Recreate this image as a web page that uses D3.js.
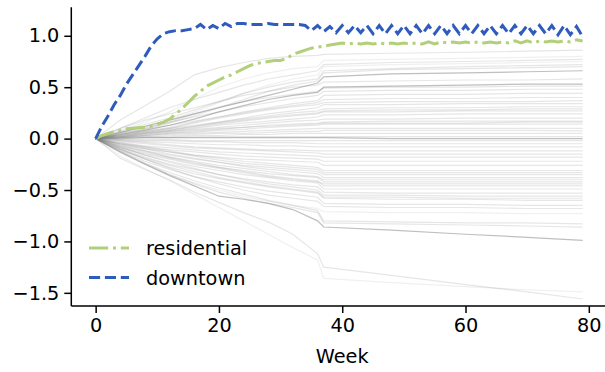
<!DOCTYPE html>
<html>
<head>
<meta charset="utf-8">
<script src="https://cdn.jsdelivr.net/npm/d3@7"></script>
<style>
  body { margin: 0; background: #fff; }
  text { font-family: "DejaVu Sans", sans-serif; }
</style>
</head>
<body>
<div id="chart"></div>
<script>
// weekly values of the two highlighted areas (weeks 0..79)
const weeks = d3.range(0, 80);
const downtown = [
  0, 0.12, 0.22, 0.33, 0.42, 0.53, 0.62, 0.71, 0.80, 0.90,
  0.97, 1.02, 1.04, 1.05, 1.05, 1.06, 1.07, 1.11, 1.06, 1.10,
  1.07, 1.12, 1.09, 1.12, 1.12, 1.11, 1.11, 1.11, 1.12, 1.11,
  1.11, 1.11, 1.11, 1.11, 1.10, 1.05, 1.10, 1.04, 1.09, 1.03,
  1.10, 1.03, 1.10, 1.03, 1.10, 1.02, 1.10, 1.02, 1.10, 1.02,
  1.10, 1.02, 1.10, 1.02, 1.10, 1.02, 1.10, 1.02, 1.10, 1.02,
  1.10, 1.02, 1.10, 1.02, 1.10, 1.02, 1.10, 1.02, 1.10, 1.02,
  1.10, 1.02, 1.10, 1.02, 1.10, 1.01, 1.10, 1.01, 1.09, 0.99
];
const residential = [
  0, 0.03, 0.05, 0.07, 0.08, 0.095, 0.10, 0.105, 0.11, 0.12,
  0.14, 0.16, 0.19, 0.24, 0.29, 0.35, 0.41, 0.46, 0.51, 0.54,
  0.57, 0.60, 0.62, 0.65, 0.68, 0.71, 0.73, 0.74, 0.75, 0.76,
  0.76, 0.78, 0.82, 0.84, 0.86, 0.88, 0.89, 0.90, 0.91, 0.92,
  0.93, 0.92, 0.93, 0.92, 0.93, 0.92, 0.93, 0.92, 0.93, 0.92,
  0.93, 0.92, 0.93, 0.92, 0.94, 0.92, 0.94, 0.93, 0.94, 0.93,
  0.94, 0.93, 0.94, 0.93, 0.94, 0.93, 0.94, 0.93, 0.95, 0.93,
  0.95, 0.93, 0.95, 0.94, 0.95, 0.94, 0.95, 0.94, 0.96, 0.95
];

// other areas, sampled at these weeks
const grayWeeks = [0, 4, 8, 12, 16, 20, 24, 28, 32, 36, 37, 48, 60, 70, 79];
const grayLines = [
  [0, .18, .32, .46, .62, .69, .74, .78, .80, .81, .82, .83, .84, .85, .86],
  [0, .08, .16, .26, .38, .50, .58, .64, .68, .70, .76, .77, .78, .79, .80],
  [0, .10, .20, .30, .38, .45, .52, .58, .62, .66, .72, .74, .75, .76, .77],
  [0, .05, .12, .18, .26, .35, .44, .52, .58, .62, .70, .72, .73, .74, .75],
  [0, .07, .14, .20, .28, .36, .44, .50, .55, .58, .66, .68, .70, .71, .72],
  [0, .04, .09, .15, .22, .30, .38, .46, .52, .56, .64, .67, .68, .69, .70],
  [0, .06, .12, .18, .24, .30, .36, .42, .48, .54, .60, .63, .64, .65, .66],
  [0, .10, .18, .24, .30, .36, .42, .46, .50, .52, .55, .56, .57, .57, .58],
  [0, .04, .08, .13, .19, .26, .32, .38, .42, .45, .50, .51, .52, .53, .53],
  [0, .06, .11, .16, .21, .26, .31, .35, .39, .42, .46, .47, .47, .48, .48],
  [0, .03, .07, .11, .16, .21, .26, .30, .34, .37, .42, .43, .43, .44, .44],
  [0, .05, .09, .13, .17, .21, .25, .29, .32, .35, .38, .39, .39, .40, .40],
  [0, .02, .05, .08, .12, .16, .20, .24, .27, .30, .33, .33, .34, .34, .34],
  [0, .04, .07, .10, .13, .16, .19, .22, .25, .27, .29, .30, .30, .31, .31],
  [0, .03, .06, .09, .12, .15, .18, .21, .23, .25, .27, .28, .28, .29, .29],
  [0, .02, .04, .07, .10, .13, .15, .17, .19, .21, .23, .23, .24, .24, .24],
  [0, .03, .05, .07, .09, .11, .13, .15, .17, .18, .19, .19, .20, .20, .20],
  [0, .02, .04, .06, .08, .10, .11, .13, .14, .15, .16, .17, .17, .17, .17],
  [0, .01, .03, .05, .06, .08, .09, .11, .12, .13, .14, .14, .14, .14, .14],
  [0, .02, .03, .04, .05, .06, .07, .08, .09, .10, .10, .10, .10, .10, .10],
  [0, .01, .02, .03, .04, .05, .05, .06, .07, .07, .08, .08, .08, .08, .075],
  [0, .01, .02, .02, .03, .03, .04, .04, .05, .05, .05, .05, .05, .05, .05],
  [0, .01, .01, .01, .02, .02, .02, .02, .02, .02, .02, .02, .02, .02, .02],
  [0, .00, .01, .01, .01, .01, .01, .01, .01, .01, .01, .00, .00, .00, .00],
  [0, -.01, -.01, -.01, -.02, -.02, -.02, -.02, -.02, -.02, -.02, -.02, -.02, -.02, -.02],
  [0, -.01, -.02, -.02, -.03, -.03, -.04, -.04, -.04, -.05, -.05, -.05, -.05, -.05, -.05],
  [0, -.02, -.03, -.04, -.05, -.06, -.06, -.07, -.07, -.08, -.08, -.08, -.08, -.08, -.08],
  [0, -.03, -.05, -.07, -.09, -.10, -.11, -.12, -.13, -.14, -.15, -.15, -.15, -.15, -.15],
  [0, -.04, -.07, -.09, -.11, -.13, -.14, -.15, -.16, -.17, -.18, -.18, -.18, -.18, -.18],
  [0, -.05, -.08, -.11, -.13, -.15, -.17, -.18, -.19, -.20, -.22, -.22, -.22, -.22, -.22],
  [0, -.06, -.10, -.13, -.16, -.18, -.20, -.21, -.22, -.23, -.26, -.26, -.26, -.26, -.26],
  [0, -.04, -.08, -.12, -.16, -.19, -.22, -.24, -.26, -.28, -.31, -.31, -.31, -.31, -.31],
  [0, -.07, -.12, -.16, -.20, -.23, -.26, -.28, -.30, -.32, -.35, -.35, -.35, -.35, -.35],
  [0, -.05, -.10, -.15, -.19, -.23, -.27, -.30, -.32, -.34, -.38, -.38, -.38, -.38, -.38],
  [0, -.08, -.14, -.19, -.24, -.28, -.31, -.34, -.36, -.38, -.42, -.42, -.42, -.42, -.42],
  [0, -.06, -.12, -.18, -.23, -.28, -.32, -.36, -.39, -.41, -.46, -.46, -.46, -.46, -.46],
  [0, -.09, -.16, -.22, -.27, -.31, -.35, -.38, -.41, -.43, -.49, -.49, -.49, -.49, -.49],
  [0, -.10, -.18, -.25, -.30, -.35, -.39, -.42, -.45, -.47, -.52, -.53, -.53, -.53, -.53],
  [0, -.08, -.16, -.23, -.29, -.35, -.40, -.44, -.47, -.50, -.55, -.55, -.56, -.56, -.56],
  [0, -.11, -.20, -.28, -.34, -.39, -.43, -.47, -.50, -.53, -.58, -.59, -.59, -.60, -.60],
  [0, -.12, -.22, -.30, -.37, -.42, -.47, -.51, -.54, -.57, -.63, -.64, -.64, -.65, -.65],
  [0, -.10, -.20, -.29, -.37, -.44, -.50, -.55, -.58, -.61, -.66, -.67, -.67, -.68, -.68],
  [0, -.13, -.24, -.33, -.41, -.48, -.54, -.60, -.65, -.70, -.80, -.81, -.82, -.82, -.83],
  [0, -.12, -.24, -.35, -.44, -.52, -.58, -.63, -.67, -.72, -.82, -.83, -.84, -.85, -.86],
  [0, -.13, -.25, -.36, -.46, -.56, -.59, -.63, -.69, -.80, -.86, -.89, -.93, -.96, -.99],
  [0, -.17, -.29, -.41, -.54, -.67, -.80, -.93, -1.06, -1.18, -1.36, -1.40, -1.44, -1.47, -1.49],
  [0, -.19, -.30, -.40, -.52, -.62, -.72, -.81, -.93, -1.12, -1.25, -1.33, -1.42, -1.49, -1.56],
  [0, .05, .10, .16, .24, .31, .36, .40, .43, .46, .49, .50, .50, .51, .51],
  [0, .03, .06, .10, .15, .20, .24, .28, .31, .33, .35, .36, .36, .36, .37],
  [0, .02, .05, .08, .11, .14, .17, .20, .22, .24, .26, .26, .27, .27, .27],
  [0, .01, .03, .05, .07, .09, .11, .12, .13, .14, .15, .15, .15, .16, .16],
  [0, -.02, -.04, -.06, -.08, -.09, -.10, -.11, -.11, -.12, -.12, -.12, -.12, -.12, -.12],
  [0, -.05, -.09, -.13, -.17, -.21, -.24, -.26, -.28, -.30, -.33, -.33, -.33, -.33, -.33],
  [0, -.07, -.13, -.18, -.22, -.26, -.29, -.32, -.35, -.37, -.40, -.40, -.40, -.40, -.40],
  [0, -.09, -.15, -.20, -.25, -.29, -.33, -.37, -.40, -.42, -.44, -.44, -.44, -.44, -.44],
  [0, -.11, -.19, -.26, -.32, -.38, -.42, -.46, -.49, -.52, -.57, -.57, -.58, -.58, -.58],
  [0, -.14, -.25, -.35, -.43, -.50, -.56, -.61, -.65, -.68, -.71, -.72, -.72, -.73, -.73]
];

const xTicks = [0, 20, 40, 60, 80];
const yTicks = [-1.5, -1.0, -0.5, 0.0, 0.5, 1.0];

let width = 605;
let height = 372;
let fontSize = 19.3;

let svg = d3.select("#chart").append("svg")
  .attr("width", width)
  .attr("height", height);

let xScale = d3.scaleLinear().domain([-3.95, 82.95]).range([71.3, 607]);
let yScale = d3.scaleLinear().domain([-1.628, 1.277]).range([306, 7.3]);

// gray background lines
let darkOnes = [6, 8, 23, 44];
let faintOnes = [45, 1, 3, 56];
let grayLine = d3.line().x((d, i) => xScale(grayWeeks[i])).y((d) => yScale(d));

svg.append("g")
  .selectAll("path")
  .data(grayLines)
  .enter()
  .append("path")
  .attr("d", grayLine)
  .attr("fill", "none")
  .attr("stroke", "#808080")
  .attr("stroke-width", 1.2)
  .attr("stroke-opacity", (d, i) => darkOnes.includes(i) ? 0.5 : faintOnes.includes(i) ? 0.12 : 0.2);

let weekLine = d3.line().x((d, i) => xScale(weeks[i])).y((d) => yScale(d));

svg.append("path")
  .datum(residential)
  .attr("d", weekLine)
  .attr("fill", "none")
  .attr("stroke", "#b2cf7a")
  .attr("stroke-width", 3)
  .attr("stroke-dasharray", "19.2,4.8,3,4.8");

svg.append("path")
  .datum(downtown)
  .attr("d", weekLine)
  .attr("fill", "none")
  .attr("stroke", "#2f5bbd")
  .attr("stroke-width", 3)
  .attr("stroke-dasharray", "11.1,4.8");

// axes
let xAxis = d3.axisBottom(xScale).tickValues(xTicks).tickSize(7).tickPadding(5).tickFormat(d3.format("d"));
let gx = svg.append("g").attr("transform", "translate(0,306)").call(xAxis);

let yAxis = d3.axisLeft(yScale).tickValues(yTicks).tickSize(7).tickPadding(5)
  .tickFormat((d) => d3.format(".1f")(d).replace("-", "\u2212"));
let gy = svg.append("g").attr("transform", "translate(71.3,0)").call(yAxis);

[gx, gy].forEach((g) => {
  g.selectAll("path").attr("stroke", "#000").attr("stroke-width", 1.5);
  g.selectAll("line").attr("stroke", "#000").attr("stroke-width", 1.5);
  g.selectAll("text").attr("font-size", fontSize).attr("fill", "#000")
    .attr("font-family", "DejaVu Sans");
});
gx.select(".domain").attr("d", "M71.3,0H605");
gy.select(".domain").attr("d", "M0,7.3V306");

svg.append("text")
  .attr("x", (xScale(0) + xScale(80)) / 2)
  .attr("y", 363)
  .attr("text-anchor", "middle")
  .attr("font-size", fontSize)
  .text("Week");

// legend
let legendItems = [
  { name: "residential", color: "#b2cf7a", dash: "19.2,4.8,3,4.8" },
  { name: "downtown", color: "#2f5bbd", dash: "11.1,4.8" }
];
let legend = svg.append("g");
legendItems.forEach((d, i) => {
  let y = 248 + i * 29.5;
  legend.append("line")
    .attr("x1", 89).attr("x2", 129)
    .attr("y1", y).attr("y2", y)
    .attr("stroke", d.color)
    .attr("stroke-width", 3)
    .attr("stroke-dasharray", d.dash);
  legend.append("text")
    .attr("x", 146)
    .attr("y", y + 7)
    .attr("font-size", fontSize)
    .text(d.name);
});
</script>
</body>
</html>
